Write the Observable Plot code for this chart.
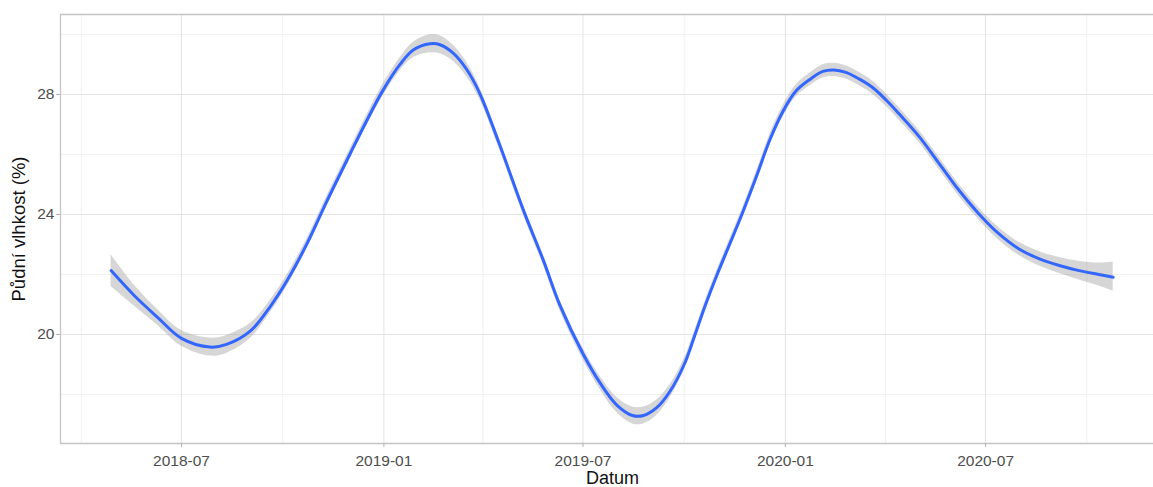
<!DOCTYPE html>
<html><head><meta charset="utf-8">
<script src="https://cdn.jsdelivr.net/npm/d3@7"></script>
<script src="https://cdn.jsdelivr.net/npm/@observablehq/plot@0.6"></script>
<style>html,body{margin:0;padding:0;background:#fff}</style>
</head><body><div id="chart"></div>
<script>
const dates = ["2018-04-28","2018-05-19","2018-06-09","2018-07-01","2018-07-27","2018-08-11","2018-09-02","2018-09-20","2018-10-05","2018-10-23","2018-11-10","2018-12-01","2018-12-16","2018-12-31","2019-01-16","2019-01-28","2019-02-12","2019-02-21","2019-03-05","2019-03-17","2019-03-29","2019-04-16","2019-05-08","2019-05-26","2019-06-10","2019-07-01","2019-07-17","2019-08-01","2019-08-15","2019-08-25","2019-09-06","2019-09-18","2019-10-01","2019-10-10","2019-10-20","2019-10-31","2019-11-11","2019-11-23","2019-12-06","2019-12-18","2019-12-30","2020-01-11","2020-01-24","2020-02-04","2020-02-14","2020-02-25","2020-03-08","2020-03-20","2020-04-02","2020-04-14","2020-05-02","2020-05-20","2020-06-07","2020-06-25","2020-07-13","2020-07-31","2020-08-19","2020-09-06","2020-09-24","2020-10-12","2020-10-25"];
const moisture = [22.13,21.30,20.58,19.87,19.58,19.67,20.13,20.95,21.80,23.02,24.43,26.00,27.10,28.13,29.02,29.49,29.69,29.66,29.38,28.85,28.05,26.35,24.13,22.47,20.98,19.36,18.36,17.64,17.30,17.30,17.56,18.10,19.00,19.90,20.95,22.00,22.98,24.05,25.30,26.50,27.45,28.13,28.52,28.77,28.82,28.74,28.52,28.24,27.80,27.33,26.58,25.69,24.80,24.02,23.36,22.86,22.52,22.30,22.13,22.00,21.91];
const lower = [21.60,20.95,20.32,19.61,19.28,19.37,19.88,20.74,21.61,22.85,24.26,25.83,26.92,27.93,28.80,29.23,29.39,29.36,29.11,28.61,27.85,26.18,23.97,22.31,20.81,19.17,18.14,17.39,17.02,17.02,17.30,17.88,18.81,19.73,20.79,21.84,22.82,23.89,25.13,26.32,27.26,27.93,28.31,28.55,28.60,28.52,28.30,28.02,27.59,27.12,26.38,25.49,24.60,23.82,23.15,22.64,22.28,22.03,21.82,21.62,21.45];
const upper = [22.66,21.65,20.84,20.13,19.88,19.97,20.38,21.16,21.99,23.19,24.60,26.17,27.28,28.33,29.24,29.75,29.99,29.96,29.65,29.09,28.25,26.52,24.29,22.63,21.15,19.55,18.58,17.89,17.58,17.58,17.82,18.32,19.19,20.07,21.11,22.16,23.14,24.21,25.47,26.68,27.64,28.33,28.73,28.99,29.04,28.96,28.74,28.46,28.01,27.54,26.78,25.89,25.00,24.22,23.57,23.08,22.76,22.57,22.44,22.38,22.42];
const xTicks = ["2018-07-01","2019-01-01","2019-07-01","2020-01-01","2020-07-01"];
const xMinorTicks = ["2018-04-01","2018-10-01","2019-04-01","2019-10-01","2020-04-01","2020-10-01"];
const yTicks = [20, 24, 28];
const yMinorTicks = [18, 22, 26, 30];
const xLabel = "Datum";
const yLabel = "Půdní vlhkost (%)";

const xDomain = [new Date("2018-03-13T00:00Z"), new Date("2020-11-30T16:00Z")];
const yDomain = [16.367, 30.667];

const data = dates.map((d, i) => ({date: new Date(d + "T00:00Z"), y: moisture[i], lo: lower[i], hi: upper[i]}));
const toDate = d => new Date(d + "T00:00Z");

const chart = Plot.plot({
  width: 1153, height: 487,
  marginLeft: 60, marginRight: 0, marginTop: 14, marginBottom: 44,
  style: {fontFamily: "'Liberation Sans', Arial, sans-serif", background: "#fff"},
  x: {type: "utc", domain: xDomain},
  y: {domain: yDomain},
  marks: [
    Plot.ruleX(xMinorTicks.map(toDate), {stroke: "#f1f1f1", strokeWidth: 1}),
    Plot.ruleY(yMinorTicks, {stroke: "#f1f1f1", strokeWidth: 1}),
    Plot.ruleX(xTicks.map(toDate), {stroke: "#e4e4e4", strokeWidth: 1}),
    Plot.ruleY(yTicks, {stroke: "#e4e4e4", strokeWidth: 1}),
    Plot.areaY(data, {x: "date", y1: "lo", y2: "hi", fill: "#999999", fillOpacity: 0.4, curve: "catmull-rom"}),
    Plot.lineY(data, {x: "date", y: "y", stroke: "#3366FF", strokeWidth: 3, curve: "catmull-rom"}),
    Plot.ruleY([yDomain[0], yDomain[1]], {stroke: "#c4c4c4", strokeWidth: 1.3}),
    Plot.ruleX([xDomain[0]], {stroke: "#c4c4c4", strokeWidth: 1.3}),
    Plot.axisX(xTicks.map(toDate), {tickFormat: d3.utcFormat("%Y-%m"), tickSize: 4, tickPadding: 7, fontSize: 15.5, stroke: "#b3b3b3", fill: "#4d4d4d", label: null}),
    Plot.axisY(yTicks, {tickSize: 4, tickPadding: 2, fontSize: 15.5, stroke: "#b3b3b3", fill: "#4d4d4d", label: null}),
    Plot.text([xLabel], {text: d => d, frameAnchor: "bottom", lineAnchor: "middle", textAnchor: "middle", dy: 34.5, dx: 5.5, fontSize: 18, fill: "#111"}),
    Plot.text([yLabel], {text: d => d, frameAnchor: "left", lineAnchor: "middle", textAnchor: "middle", dx: -41, rotate: -90, fontSize: 18.5, fill: "#111"})
  ]
});
document.getElementById("chart").appendChild(chart);
</script>
</body></html>
